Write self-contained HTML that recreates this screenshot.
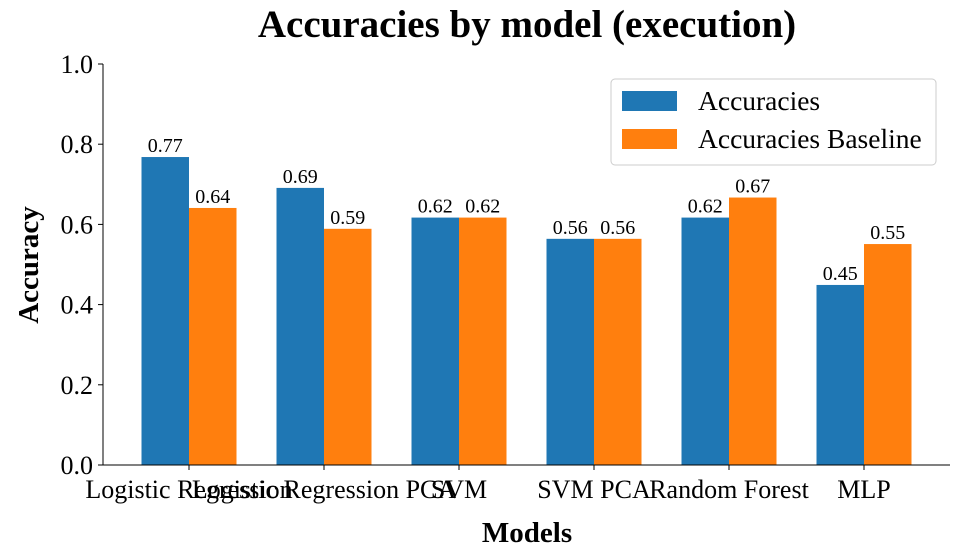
<!DOCTYPE html>
<html><head><meta charset="utf-8"><style>
body{margin:0;background:#fff}
svg{display:block;font-family:"Liberation Serif",serif}
</style></head><body>
<svg id="chart" width="960" height="560" viewBox="0 0 960 560">
<text x="527" y="37" text-anchor="middle" font-size="39" font-weight="bold">Accuracies by model (execution)</text>
<g id="bars"></g>
<g id="yaxis"></g>
<g id="xaxis"></g>
<line x1="103" y1="64" x2="103" y2="465" stroke="#000" stroke-width="1"/>
<line x1="103" y1="465" x2="950" y2="465" stroke="#000" stroke-width="1"/>
<text x="527" y="542" text-anchor="middle" font-size="29" font-weight="bold">Models</text>
<text transform="translate(38,265) rotate(-90)" text-anchor="middle" font-size="29" font-weight="bold">Accuracy</text>
<g>
<rect x="611" y="79" width="325" height="86" rx="4" fill="#fff" stroke="#ccc"/>
<rect x="622" y="91" width="55" height="20" fill="#1f77b4"/>
<text x="698" y="110" font-size="27.5">Accuracies</text>
<rect x="622" y="129" width="55" height="20" fill="#ff7f0e"/>
<text x="698" y="148" font-size="27.5">Accuracies Baseline</text>
</g>
</svg>
<script>
const categories=["Logistic Regression","Logistic Regression PCA","SVM","SVM PCA","Random Forest","MLP"];
const accuracies=[0.768,0.691,0.617,0.564,0.617,0.449];
const baseline=[0.641,0.589,0.617,0.564,0.667,0.551];
const yTicks=[0,0.2,0.4,0.6,0.8,1.0];
const NS="http://www.w3.org/2000/svg";
function y(v){return 465-v*401;}
function xc(i){return 189+i*135;}
const bw=47.5;
function mk(tag,attrs,parent,text){const e=document.createElementNS(NS,tag);for(const k in attrs)e.setAttribute(k,attrs[k]);if(text!==undefined)e.textContent=text;parent.appendChild(e);return e;}
const bars=document.getElementById('bars'),ya=document.getElementById('yaxis'),xa=document.getElementById('xaxis');
categories.forEach((c,i)=>{
  [[accuracies,'#1f77b4',-bw,'accuracies'],[baseline,'#ff7f0e',0,'baseline']].forEach(([arr,col,off,nm])=>{
    const v=arr[i];
    const r=mk('rect',{x:xc(i)+off,y:y(v),width:bw,height:465-y(v),fill:col},bars);
    
    
    const t=mk('text',{x:xc(i)+off+bw/2,y:y(v)-5,'text-anchor':'middle','font-size':20},bars,v.toFixed(2));
    
    
  });
  mk('line',{x1:xc(i),x2:xc(i),y1:465,y2:470,stroke:'#000'},xa);
  const t=mk('text',{x:xc(i),y:498,'text-anchor':'middle','font-size':26},xa,c);
  
  
});
yTicks.forEach(v=>{
  mk('line',{x1:98,x2:103,y1:y(v),y2:y(v),stroke:'#000'},ya);
  const t=mk('text',{x:93,y:y(v)+9,'text-anchor':'end','font-size':26},ya,v.toFixed(1));
  
  
});
</script>
</body></html>
